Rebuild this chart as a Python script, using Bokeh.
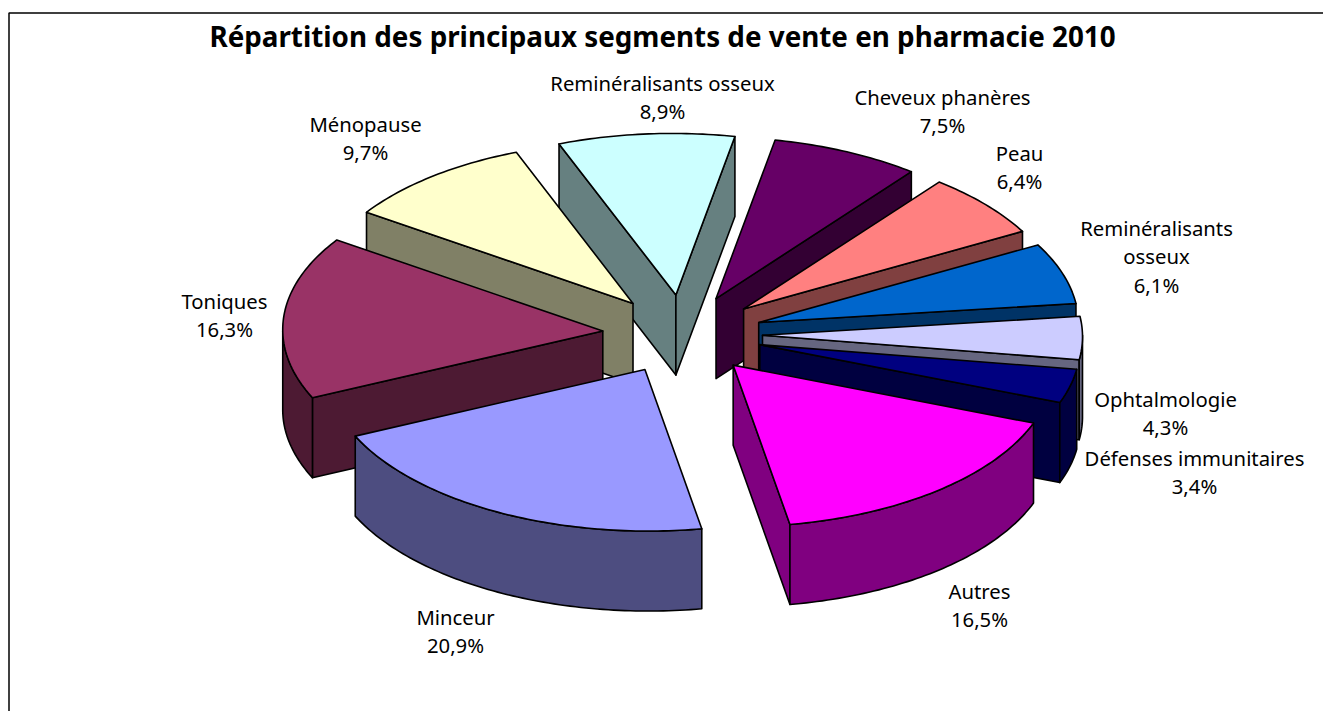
import math
from bokeh.plotting import figure
from bokeh.models import Range1d
from bokeh.core.properties import value
from bokeh.embed import file_html
from bokeh.resources import INLINE

TITLE = "Répartition des principaux segments de vente en pharmacie 2010"
categories = ["Autres", "Minceur", "Toniques", "Ménopause", "Reminéralisants osseux",
              "Cheveux phanères", "Peau", "Reminéralisants\nosseux", "Ophtalmologie",
              "Défenses immunitaires"]
shares = [16.5, 20.9, 16.3, 9.7, 8.9, 7.5, 6.4, 6.1, 4.3, 3.4]
top_colors = ["#ff00ff", "#9999ff", "#993366", "#ffffcc", "#ccffff",
              "#660066", "#ff8080", "#0066cc", "#ccccff", "#000080"]
side_colors = ["#800080", "#4d4d80", "#4d1a33", "#808066", "#668080",
               "#330033", "#804040", "#003366", "#666680", "#000040"]

# layout of the projected pie, in page pixels
CX, CY, R, K, K_EXPLODE, DEPTH, EXPLODE, START, SHEAR = 682, 334, 320, 0.505, 0.495, 80, 80, 21.0, 0.018
FONT = "Noto Sans"
LABEL_PX, TITLE_PX, LINE_H = 20.3, 27.8, 28.5
# centre x and first line's centre y of every label
label_pos = [(979, 590), (455, 616), (224, 300), (365, 123), (662, 82),
             (942, 96), (1019, 152), (1156, 227), (1165, 398), (1194, 457)]

W, H = 1323, 711
p = figure(width=W, height=H, output_backend="svg", toolbar_location=None,
           x_range=Range1d(0, W), y_range=Range1d(H, 0),
           min_border=0, outline_line_color=None, background_fill_color="white")
p.axis.visible = False
p.grid.visible = False


def pt(c, a, drop=0.0):
    t = math.radians(a)
    y = c[1] + R * K * math.sin(t)
    return (c[0] + R * math.cos(t) + SHEAR * (y - CY), y + drop)


# build slices
slices, a = [], START
for share, top, side in zip(shares, top_colors, side_colors):
    b = a + share * 3.6
    m = math.radians((a + b) / 2)
    c = (CX + EXPLODE * math.cos(m), CY + EXPLODE * K_EXPLODE * math.sin(m))
    slices.append((math.sin(m), a, b, c, top, side))
    a = b

xs, ys, fills = [], [], []


def add(points, color):
    xs.append([q[0] for q in points])
    ys.append([q[1] for q in points])
    fills.append(color)


for _, a, b, c, top, side in sorted(slices, key=lambda s: s[0]):
    # radial walls that face the viewer
    if math.cos(math.radians(a)) < 0:
        e = pt(c, a)
        add([c, e, (e[0], e[1] + DEPTH), (c[0], c[1] + DEPTH)], side)
    if math.cos(math.radians(b)) > 0:
        e = pt(c, b)
        add([c, e, (e[0], e[1] + DEPTH), (c[0], c[1] + DEPTH)], side)
    # outer rim, front half only
    for off in (0, 360):
        lo, hi = max(a, off), min(b, off + 180)
        if hi > lo:
            n = max(2, int(hi - lo) + 2)
            arc = [lo + (hi - lo) * i / (n - 1) for i in range(n)]
            add([pt(c, t) for t in arc] + [pt(c, t, DEPTH) for t in reversed(arc)], side)
    # top face
    n = max(2, int(b - a) + 2)
    add([c] + [pt(c, a + (b - a) * i / (n - 1)) for i in range(n)], top)

p.patches(xs, ys, fill_color=fills, line_color="black", line_width=1.6, line_join="round")

# frame: open at the right and at the bottom of the page
p.line([8.5, 8.5, W], [H, 12.5, 12.5], line_color="black", line_width=1.5)

tx, ty, tt = [], [], []
for name, share, (x, y) in zip(categories, shares, label_pos):
    lines = name.split("\n") + [f"{share:.1f}%".replace(".", ",")]
    for i, line in enumerate(lines):
        tx.append(x)
        ty.append(y + i * LINE_H)
        tt.append(line)
p.text(tx, ty, text=tt, text_font=value(FONT), text_font_size=f"{LABEL_PX}px",
       text_align="center", text_baseline="middle", text_color="black")
p.text([662], [35], text=[TITLE], text_font=value(FONT), text_font_size=f"{TITLE_PX}px",
       text_font_style="bold", text_align="center", text_baseline="middle", text_color="black")

open("out.html", "w").write(file_html(p, INLINE))
